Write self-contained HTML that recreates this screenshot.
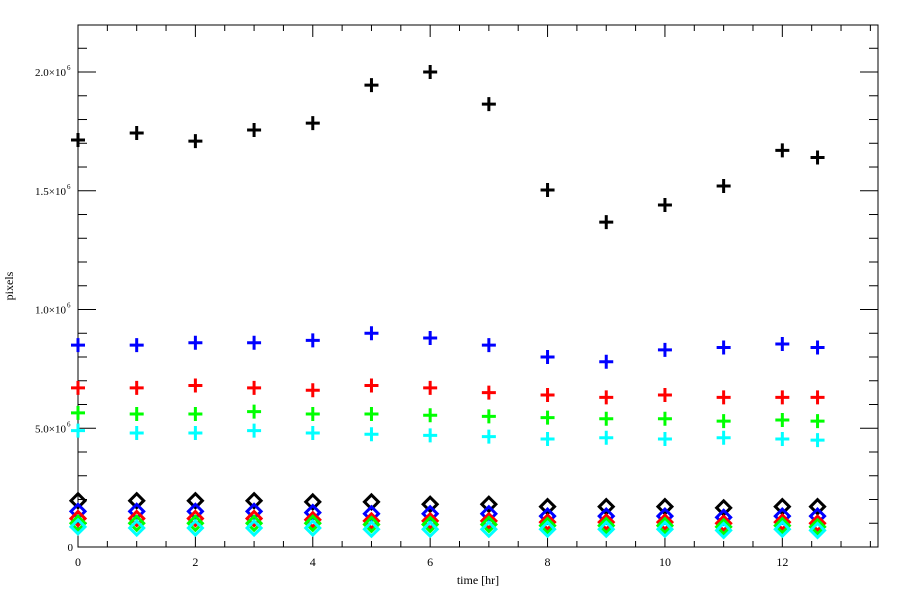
<!DOCTYPE html>
<html><head><meta charset="utf-8"><style>
html,body{margin:0;padding:0;background:#fff;}
svg{display:block;font-family:"Liberation Serif",serif;}
</style></head><body>
<svg id="chart" width="900" height="600" xmlns="http://www.w3.org/2000/svg">
<rect x="0" y="0" width="900" height="600" fill="#fff"/>
<g id="axes"></g>
<g id="marks"></g>
<text x="478" y="584" font-size="12" text-anchor="middle">time [hr]</text>
<text x="13" y="286" font-size="12" text-anchor="middle" transform="rotate(-90 13 286)">pixels</text>
</svg>
<script>
const times=[0,1,2,3,4,5,6,7,8,9,10,11,12,12.6];
const blackPlus=[1.714,1.743,1.709,1.756,1.785,1.945,2.0,1.865,1.503,1.368,1.44,1.52,1.67,1.64];
const bluePlus=[0.85,0.85,0.86,0.86,0.87,0.90,0.88,0.85,0.80,0.78,0.83,0.84,0.855,0.84];
const redPlus=[0.67,0.67,0.68,0.67,0.66,0.68,0.67,0.65,0.64,0.63,0.64,0.63,0.63,0.63];
const greenPlus=[0.565,0.56,0.56,0.57,0.56,0.56,0.555,0.55,0.545,0.54,0.54,0.53,0.535,0.53];
const cyanPlus=[0.49,0.48,0.48,0.49,0.48,0.475,0.47,0.465,0.455,0.46,0.455,0.46,0.455,0.45];
const blackDia=[0.195,0.195,0.195,0.195,0.19,0.19,0.18,0.18,0.17,0.17,0.17,0.165,0.17,0.17];
const blueDia=[0.15,0.15,0.15,0.15,0.145,0.14,0.14,0.14,0.13,0.13,0.13,0.125,0.13,0.13];
const redDia=[0.12,0.12,0.12,0.12,0.115,0.11,0.11,0.11,0.105,0.105,0.105,0.1,0.105,0.1];
const greenDia=[0.1,0.1,0.1,0.1,0.1,0.095,0.095,0.095,0.09,0.09,0.09,0.085,0.09,0.085];
const cyanDia=[0.085,0.08,0.08,0.08,0.08,0.075,0.075,0.075,0.075,0.075,0.075,0.07,0.075,0.07];
const yTickLabels=["0","5.0×10","1.0×10","1.5×10","2.0×10"];
const xTickLabels=["0","2","4","6","8","10","12"];

const L=78,R=878,T=25,B=547,XMAX=13.63,YMAX=2.198;
const xs=v=>L+v/XMAX*(R-L);
const ys=v=>B-v/YMAX*(B-T);
const NS="http://www.w3.org/2000/svg";
function el(tag,attrs,parent){const e=document.createElementNS(NS,tag);for(const k in attrs)e.setAttribute(k,attrs[k]);parent.appendChild(e);return e;}
const axes=document.getElementById('axes'),marks=document.getElementById('marks');
const frame=el('rect',{x:L,y:T,width:R-L,height:B-T,fill:'none',stroke:'#000','stroke-width':1},axes);


for(let v=0;v<=13.5;v+=0.5){
  const maj=(v%2===0),len=maj?12:6,x=xs(v);
  el('line',{x1:x,y1:B,x2:x,y2:B-len,stroke:'#000'},axes);
  el('line',{x1:x,y1:T,x2:x,y2:T+len,stroke:'#000'},axes);
}
xTickLabels.forEach((t,i)=>{
  const tx=el('text',{x:xs(i*2),y:566,'font-size':12,'text-anchor':'middle'},axes);
  tx.textContent=t;
  
  
});
for(let k=0;k<=21;k++){
  const v=k*0.1,maj=(k%5===0),len=maj?18:9,y=ys(v);
  el('line',{x1:L,y1:y,x2:L+len,y2:y,stroke:'#000'},axes);
  el('line',{x1:R,y1:y,x2:R-len,y2:y,stroke:'#000'},axes);
}
yTickLabels.forEach((t,i)=>{
  const tx=el('text',{x:i===0?73:66,y:ys(i*0.5)+4,'font-size':11,'text-anchor':'end'},axes);
  tx.textContent=t;
  
  
  if(i>0){
    const s=el('text',{x:67,y:ys(i*0.5)-2,'font-size':7,'text-anchor':'start'},axes);
    s.textContent='6';
    
    
  }
});
function plus(arr,color,name){
  arr.forEach((v,i)=>{
    const x=xs(times[i]),y=ys(v);
    const p=el('path',{d:`M${x-7},${y}H${x+7}M${x},${y-7}V${y+7}`,stroke:color,'stroke-width':3,fill:'none'},marks);
    
    
  });
}
function dia(arr,color,name){
  arr.forEach((v,i)=>{
    const x=xs(times[i]),y=ys(v);
    const p=el('path',{d:`M${x},${y-7}L${x+7},${y}L${x},${y+7}L${x-7},${y}Z`,stroke:color,'stroke-width':3,fill:'none'},marks);
    
    
  });
}
plus(blackPlus,'#000','black-plus-point');
plus(bluePlus,'#0000ff','blue-plus-point');
plus(redPlus,'#ff0000','red-plus-point');
plus(greenPlus,'#00ff00','green-plus-point');
plus(cyanPlus,'#00ffff','cyan-plus-point');
dia(blackDia,'#000','black-diamond-point');
dia(blueDia,'#0000ff','blue-diamond-point');
dia(redDia,'#ff0000','red-diamond-point');
dia(greenDia,'#00ff00','green-diamond-point');
dia(cyanDia,'#00ffff','cyan-diamond-point');
</script>
</body></html>
